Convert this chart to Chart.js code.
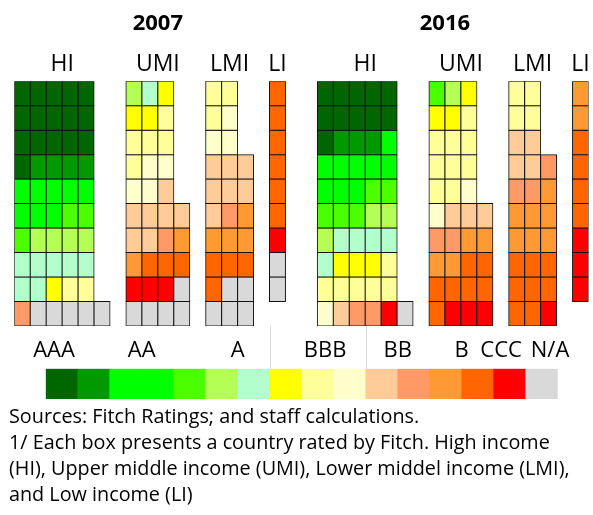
<!DOCTYPE html>
<html>
<head>
    <title>Fitch sovereign ratings by income group, 2007 and 2016</title>
    <meta charset="utf-8" />
    <script src="https://cdn.jsdelivr.net/npm/chart.js@4.4.0/dist/chart.umd.min.js"></script>
    <style>
        html, body {
            margin: 0;
            padding: 0;
            background: white;
            font-family: "Open Sans", sans-serif;
        }
        #wrap {
            position: relative;
            width: 593px;
            height: 515px;
        }
        #grid-chart {
            position: absolute;
            left: 0;
            top: 0;
        }
        #key-chart {
            position: absolute;
            left: 0;
            top: 322px;
        }
        #notes {
            position: absolute;
            left: 9px;
            top: 403px;
            font-size: 19.8px;
            line-height: 26px;
            color: #000;
            white-space: nowrap;
        }
    </style>
</head>
<body>
    <div id="wrap">
        <canvas id="grid-chart" width="593" height="330"></canvas>
        <canvas id="key-chart" width="593" height="82"></canvas>
        <div id="notes">
            Sources: Fitch Ratings; and staff calculations.<br>
            1/ Each box presents a country rated by Fitch. High income<br>
            (HI), Upper middle income (UMI), Lower middel income (LMI),<br>
            and Low income (LI)
        </div>
    </div>

    <script>
        // rating steps used in the colour key (index = position in key)
        const ratingSteps = ['AAA', 'AA+', 'AA', 'AA-', 'A+', 'A', 'A-', 'BBB+', 'BBB', 'BBB-',
                             'BB+', 'BB', 'BB-', 'B', 'CCC', 'N/A'];
        const ratingColors = ['#006600', '#009900', '#00ff00', '#00ff00', '#4cff00', '#b3ff55',
                              '#b3ffcc', '#ffff00', '#ffff99', '#ffffcc', '#ffcc99', '#ff9966',
                              '#ff9933', '#ff6600', '#ff0000', '#d9d9d9'];

        // key tick labels and where they sit along the key (in key cells)
        const keyLabels = ['AAA', 'AA', 'A', 'BBB', 'BB', 'B', 'CCC', 'N/A'];
        const keyLabelPos = [0.26, 3.0, 6.0, 8.73, 11.0, 13.0, 14.23, 15.76];
        const keyBreaks = [7, 10];

        // one string per row, top to bottom; each character is a rating step (hex index)
        const hi2007 = ['00000', '00000', '00000', '01111', '22222', '22244', '45555', '66666', '66788', 'bfffff'];
        const umi2007 = ['567', '778', '888', '899', '99a', 'aaaa', 'aabc', 'cddd', 'eeef', 'ffff'];
        const lmi2007 = ['88', '89', '99', 'aaa', 'aaa', 'abc', 'ccc', 'ddd', 'dff', 'fff'];
        const li2007 = ['d', 'd', 'd', 'd', 'd', 'd', 'e', 'f', 'f'];

        const hi2016 = ['00000', '00000', '01112', '22222', '22244', '44455', '56666', '67778', '88888', '9abbef'];
        const umi2016 = ['457', '778', '888', '888', '889', '9aaa', 'bbcc', 'ccdd', 'dddd', 'deee'];
        const lmi2016 = ['88', '88', 'aa', 'aab', 'bbc', 'ccc', 'ccc', 'ddd', 'ddd', 'dde'];
        const li2016 = ['c', 'c', 'd', 'd', 'd', 'd', 'e', 'e', 'e'];

        const groupNames = ['HI', 'UMI', 'LMI', 'LI', 'HI', 'UMI', 'LMI', 'LI'];
        const groupRows = [hi2007, umi2007, lmi2007, li2007, hi2016, umi2016, lmi2016, li2016];
        const years = ['2007', '2016'];

        // layout: first column slot of each group, total slots, year label slots
        const groupStart = [0, 7, 12, 16, 19, 26, 31, 35];
        const slotCount = 36;
        const rowCount = 10;
        const yearPos = [8.5, 26.5];

        // build one floating-bar dataset per row
        const slotLabels = Array.from({ length: slotCount }, (_, i) => 'c' + i);
        const groupCenters = groupRows.map((rows, g) => {
            const w = Math.max(...rows.map(r => r.length));
            return groupStart[g] + (w - 1) / 2;
        });

        const datasets = [];
        for (let r = 0; r < rowCount; r++) {
            const data = new Array(slotCount).fill(null);
            const colors = new Array(slotCount).fill('transparent');
            groupRows.forEach((rows, g) => {
                const row = rows[r];
                if (!row) return;
                for (let c = 0; c < row.length; c++) {
                    const slot = groupStart[g] + c;
                    data[slot] = [r, r + 1];
                    colors[slot] = ratingColors[parseInt(row[c], 16)];
                }
            });
            datasets.push({
                label: 'row ' + (r + 1),
                data: data,
                backgroundColor: colors,
                borderColor: '#111',
                borderWidth: 1,
                borderSkipped: false,
                inflateAmount: 0.5,
                grouped: false,
                barPercentage: 1,
                categoryPercentage: 1
            });
        }

        function fixedTicks(values) {
            return function (axis) {
                axis.ticks = values.map(v => ({ value: v }));
            };
        }

        new Chart(document.getElementById('grid-chart'), {
            type: 'bar',
            data: { labels: slotLabels, datasets: datasets },
            options: {
                responsive: false,
                animation: false,
                layout: { padding: { top: 0, left: 14.3, right: 4.5, bottom: 4 } },
                plugins: { legend: { display: false }, tooltip: { enabled: false } },
                scales: {
                    x: { display: false },
                    y: { display: false, reverse: true, min: 0, max: rowCount },
                    groups: {
                        type: 'linear',
                        position: 'top',
                        offset: false,
                        min: -0.5,
                        max: slotCount - 0.5,
                        afterBuildTicks: fixedTicks(groupCenters),
                        ticks: {
                            autoSkip: false,
                            maxRotation: 0,
                            padding: 2.6,
                            color: '#000',
                            font: { family: 'Open Sans', size: 23 },
                            callback: (v, i) => groupNames[i]
                        },
                        grid: { display: false, drawTicks: false },
                        border: { display: false }
                    },
                    years: {
                        type: 'linear',
                        position: 'top',
                        offset: false,
                        min: -0.5,
                        max: slotCount - 0.5,
                        afterBuildTicks: fixedTicks(yearPos),
                        ticks: {
                            autoSkip: false,
                            maxRotation: 0,
                            padding: 11,
                            color: '#000',
                            font: { family: 'Open Sans', size: 22, weight: 'bold' },
                            callback: (v, i) => years[i]
                        },
                        grid: { display: false, drawTicks: false },
                        border: { display: false }
                    }
                }
            }
        });

        // thin grey lines between rating bands, above the key
        const breakLines = {
            id: 'breakLines',
            afterDraw(chart) {
                const ctx = chart.ctx;
                const sc = chart.scales.labels;
                ctx.save();
                ctx.strokeStyle = '#d9d9d9';
                ctx.lineWidth = 1;
                keyBreaks.forEach(b => {
                    const x = Math.round(sc.getPixelForValue(b)) + 0.5;
                    ctx.beginPath();
                    ctx.moveTo(x, 4);
                    ctx.lineTo(x, chart.chartArea.top);
                    ctx.stroke();
                });
                ctx.restore();
            }
        };

        new Chart(document.getElementById('key-chart'), {
            type: 'bar',
            data: {
                labels: ratingSteps,
                datasets: [{
                    data: ratingSteps.map(() => 1),
                    backgroundColor: ratingColors,
                    borderWidth: 0,
                    barPercentage: 1,
                    categoryPercentage: 1
                }]
            },
            options: {
                responsive: false,
                animation: false,
                layout: { padding: { top: 16.3, left: 45.7, right: 35.3, bottom: 5 } },
                plugins: { legend: { display: false }, tooltip: { enabled: false } },
                scales: {
                    x: { display: false },
                    y: { display: false, min: 0, max: 1 },
                    labels: {
                        type: 'linear',
                        position: 'top',
                        offset: false,
                        min: 0,
                        max: ratingSteps.length,
                        afterBuildTicks: fixedTicks(keyLabelPos),
                        ticks: {
                            autoSkip: false,
                            maxRotation: 0,
                            padding: 4.3,
                            color: '#000',
                            font: { family: 'Open Sans', size: 22 },
                            callback: (v, i) => keyLabels[i]
                        },
                        grid: { display: false, drawTicks: false },
                        border: { display: false }
                    }
                }
            },
            plugins: [breakLines]
        });
    </script>
</body>
</html>
